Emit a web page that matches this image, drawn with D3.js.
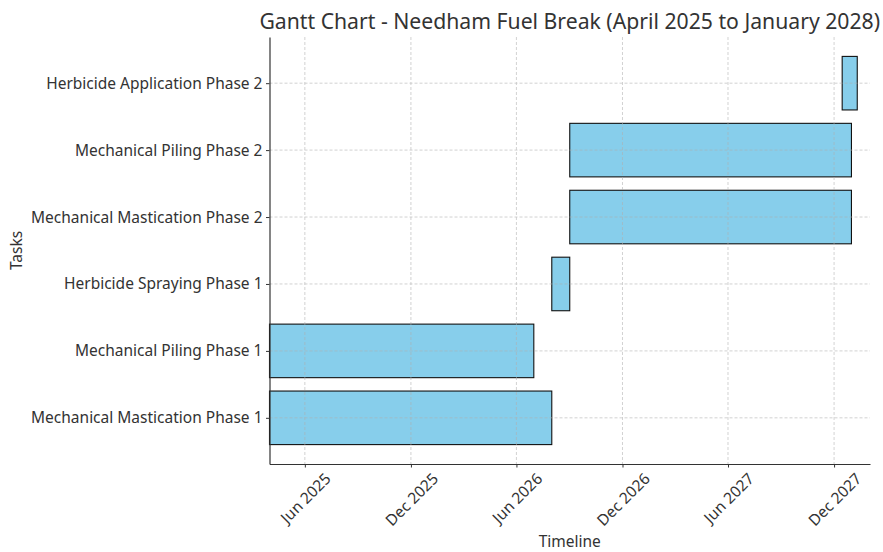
<!DOCTYPE html>
<html>
<head>
<meta charset="utf-8">
<script src="https://cdn.jsdelivr.net/npm/d3@7"></script>
<style>
  html, body { margin: 0; padding: 0; background: #fff; }
  svg { display: block; font-family: "Noto Sans", "Open Sans", sans-serif; }
</style>
</head>
<body>
<svg id="chart" width="883" height="552"></svg>
<script>
// ---- data ----
const tasks = [
  "Mechanical Mastication Phase 1",
  "Mechanical Piling Phase 1",
  "Herbicide Spraying Phase 1",
  "Mechanical Mastication Phase 2",
  "Mechanical Piling Phase 2",
  "Herbicide Application Phase 2"
];
const startDates = ["2025-04-01", "2025-04-01", "2026-08-01", "2026-09-01", "2026-09-01", "2027-12-15"];
const endDates   = ["2026-08-01", "2026-07-01", "2026-09-01", "2027-12-31", "2027-12-31", "2028-01-10"];
const xTickDates = ["2025-06-01", "2025-12-01", "2026-06-01", "2026-12-01", "2027-06-01", "2027-12-01"];
const xDomainDates = ["2025-04-01", "2028-02-01"];
const titleText = "Gantt Chart - Needham Fuel Break (April 2025 to January 2028)";
const xLabel = "Timeline";
const yLabel = "Tasks";

// ---- layout ----
const W = 883, H = 552;
const m = { left: 269.5, right: 870, top: 37, bottom: 464 };
const FONT = '"Noto Sans", "Open Sans", sans-serif';
const LABEL_SIZE = 15.5;
const parse = d3.utcParse("%Y-%m-%d");
const fmt = d3.utcFormat("%b %Y");
const textColor = "#333";
const spineColor = "#333";

const svg = d3.select("#chart");

const x = d3.scaleUtc()
  .domain(xDomainDates.map(parse))
  .range([m.left, m.right]);

const barH = 0.8;
const yPad = 0.05 * ((tasks.length - 1 + barH / 2) - (-barH / 2));
const y = d3.scaleLinear()
  .domain([-barH / 2 - yPad, tasks.length - 1 + barH / 2 + yPad])
  .range([m.bottom, m.top]);

const data = tasks.map((t, i) => ({ task: t, i, start: parse(startDates[i]), end: parse(endDates[i]) }));
const tickVals = xTickDates.map(parse);

// bars
svg.append("g").selectAll("rect").data(data).join("rect")
  .attr("x", d => x(d.start))
  .attr("width", d => x(d.end) - x(d.start))
  .attr("y", d => y(d.i + barH / 2))
  .attr("height", d => y(d.i - barH / 2) - y(d.i + barH / 2))
  .attr("fill", "#87ceeb")
  .attr("stroke", "#111")
  .attr("stroke-width", 1.1);

// grid (drawn above bars, like matplotlib default)
const grid = svg.append("g").attr("stroke", "#b0b0b0").attr("stroke-width", 0.8)
  .attr("stroke-dasharray", "3,2").attr("opacity", 0.7);
grid.selectAll("line.vx").data(tickVals).join("line").attr("class", "vx")
  .attr("x1", d => x(d)).attr("x2", d => x(d))
  .attr("y1", m.top).attr("y2", m.bottom);
grid.selectAll("line.hy").data(data).join("line").attr("class", "hy")
  .attr("x1", m.left).attr("x2", m.right)
  .attr("y1", d => y(d.i)).attr("y2", d => y(d.i));

// x axis
const xAxis = svg.append("g")
  .attr("transform", `translate(0,${m.bottom})`)
  .call(d3.axisBottom(x).tickValues(tickVals).tickFormat(fmt).tickSize(3.5).tickSizeOuter(0).tickPadding(3.5))
  .attr("font-family", FONT);
xAxis.select(".domain").attr("stroke", spineColor).attr("stroke-width", 1.2);
xAxis.selectAll(".tick line").attr("stroke", spineColor).attr("stroke-width", 1);
xAxis.selectAll(".tick text").each(function () {
  const t = d3.select(this);
  t.attr("font-size", LABEL_SIZE).attr("fill", textColor);
  const w = this.getComputedTextLength();
  const h = LABEL_SIZE * 0.9;
  const cy = 6.5 + (w + h) / (2 * Math.SQRT2);
  t.attr("y", null).attr("dy", null)
    .attr("text-anchor", "middle")
    .attr("dominant-baseline", "central")
    .attr("transform", `translate(0,${cy}) rotate(-45)`);
});

// y axis
const yAxis = svg.append("g")
  .attr("transform", `translate(${m.left},0)`)
  .call(d3.axisLeft(y).tickValues(d3.range(tasks.length)).tickFormat(i => tasks[i]).tickSize(3.5).tickSizeOuter(0).tickPadding(3.5))
  .attr("font-family", FONT);
yAxis.select(".domain").attr("stroke", spineColor).attr("stroke-width", 1.2);
yAxis.selectAll(".tick line").attr("stroke", spineColor).attr("stroke-width", 1);
yAxis.selectAll(".tick text").attr("font-size", LABEL_SIZE).attr("fill", textColor);

// title
svg.append("text")
  .attr("x", (m.left + m.right) / 2).attr("y", 29)
  .attr("text-anchor", "middle")
  .attr("font-size", 21.2)
  .attr("fill", textColor)
  .text(titleText);

// axis labels
svg.append("text")
  .attr("x", (m.left + m.right) / 2).attr("y", 547)
  .attr("text-anchor", "middle").attr("font-size", LABEL_SIZE).attr("fill", textColor)
  .text(xLabel);
svg.append("text")
  .attr("transform", `translate(22,${(m.top + m.bottom) / 2}) rotate(-90)`)
  .attr("text-anchor", "middle").attr("font-size", LABEL_SIZE).attr("fill", textColor)
  .text(yLabel);
</script>
</body>
</html>
